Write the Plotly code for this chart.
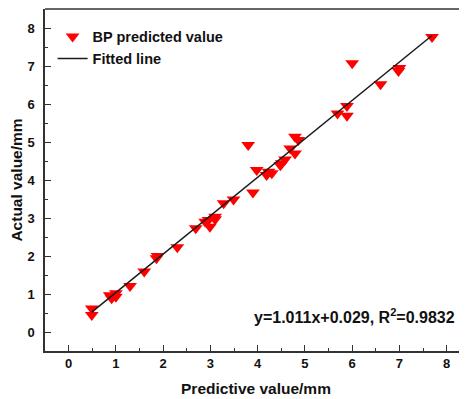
import plotly.graph_objects as go

# Data
predicted = [0.49, 0.49, 0.87, 1.00, 0.91, 1.00, 1.30, 1.60, 1.88, 1.86,
             2.30, 2.69, 2.89, 2.99, 3.10, 2.96, 3.10, 3.28, 3.49, 3.90,
             3.80, 3.98, 4.23, 4.30, 4.19, 4.48, 4.51, 4.58, 4.69, 4.79,
             4.79, 4.86, 5.69, 5.89, 5.89, 6.00, 6.60, 6.98, 7.00, 7.69]
actual = [0.62, 0.45, 0.97, 1.02, 0.89, 0.93, 1.21, 1.59, 2.00, 1.94,
          2.23, 2.73, 2.90, 2.77, 2.97, 2.95, 3.03, 3.39, 3.49, 3.67,
          4.92, 4.26, 4.22, 4.18, 4.13, 4.39, 4.44, 4.54, 4.83, 4.70,
          5.14, 5.05, 5.75, 5.95, 5.69, 7.07, 6.52, 6.87, 6.95, 7.76]
fit_slope = 1.011
fit_intercept = 0.029
r_squared = 0.9832
tick_values = [0, 1, 2, 3, 4, 5, 6, 7, 8]

fit_x = [min(predicted), max(predicted)]
fit_y = [fit_slope * v + fit_intercept for v in fit_x]

FONT = "Arial, Liberation Sans, sans-serif"

fig = go.Figure()
fig.add_trace(go.Scatter(
    x=predicted, y=actual, mode="markers", name="BP predicted value",
    marker=dict(symbol="triangle-down", size=12, color="#ff0000", line=dict(width=0)),
))
fig.add_trace(go.Scatter(
    x=fit_x, y=fit_y, mode="lines", name="Fitted line",
    line=dict(color="#1a1a1a", width=1.5),
))

axis_common = dict(
    showgrid=False, zeroline=False, showline=True, linecolor="#333333", linewidth=1.5,
    ticks="inside", ticklen=6, tickwidth=1.2, tickcolor="#333333",
    tickmode="array", tickvals=tick_values, automargin=False,
    tickfont=dict(family=FONT, size=13, color="#111111", weight="bold"),
    minor=dict(dtick=0.5, ticks="inside", ticklen=3, tickwidth=1, tickcolor="#333333"),
)

# The page body adds an 8px offset; the figure is sized to the visible area.
fig.update_layout(
    width=459, height=391,
    margin=dict(l=37, r=0, t=1, b=48),
    paper_bgcolor="white", plot_bgcolor="white",
    showlegend=True,
    legend=dict(x=0.018, y=0.966, xanchor="left", yanchor="top",
                bgcolor="rgba(0,0,0,0)", tracegroupgap=0,
                font=dict(family=FONT, size=14.5, color="#111111", weight="bold")),
    xaxis=dict(range=[-0.5, 8.43], title=dict(text="Predictive value/mm", standoff=13,
               font=dict(family=FONT, size=15.5, color="#111111", weight="bold")), **axis_common),
    yaxis=dict(range=[-0.5, 8.5], ticklabelstandoff=6,
               title=dict(text="Actual value/mm", standoff=8,
               font=dict(family=FONT, size=15.5, color="#111111", weight="bold")), **axis_common),
    shapes=[dict(type="line", xref="paper", yref="paper", x0=0, x1=1, y0=1, y1=1,
                 line=dict(color="#333333", width=1.5))],
    annotations=[dict(
        xref="paper", yref="paper", x=0.49, y=0.102, xanchor="left", yanchor="middle",
        showarrow=False,
        text=f"y={fit_slope:.3f}x+{fit_intercept:.3f}, R<sup>2</sup>={r_squared:.4f}",
        font=dict(family=FONT, size=16, color="#111111", weight="bold"),
    )],
)

fig.write_html("out.html")
